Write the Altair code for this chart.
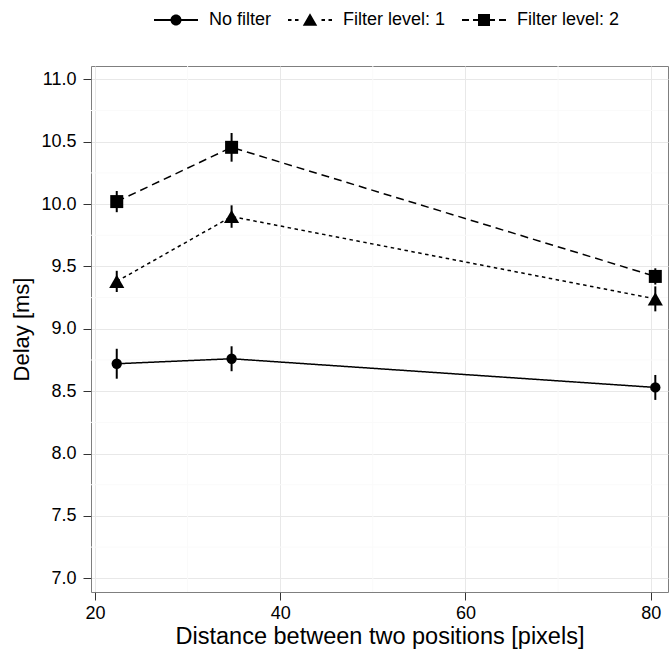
import altair as alt
import pandas as pd

# ---- data ----
series_names = ["No filter", "Filter level: 1", "Filter level: 2"]
distance = [22.35, 34.75, 80.5]
delay_no_filter = [8.72, 8.76, 8.53]
err_no_filter = [0.12, 0.10, 0.10]
delay_filter1 = [9.38, 9.90, 9.24]
err_filter1 = [0.085, 0.09, 0.10]
delay_filter2 = [10.02, 10.455, 9.42]
err_filter2 = [0.085, 0.115, 0.065]

x_ticks = [20, 40, 60, 80]
y_ticks = [7.0, 7.5, 8.0, 8.5, 9.0, 9.5, 10.0, 10.5, 11.0]
x_minor = [30, 50, 70]
y_minor = [7.25, 7.75, 8.25, 8.75, 9.25, 9.75, 10.25, 10.75]

rows = []
for name, vals, errs in zip(series_names,
                            [delay_no_filter, delay_filter1, delay_filter2],
                            [err_no_filter, err_filter1, err_filter2]):
    for d, v, e in zip(distance, vals, errs):
        rows.append({"series": name, "distance": d, "delay": v,
                     "lo": v - e, "hi": v + e})
df = pd.DataFrame(rows)

FONT = "Liberation Sans"
X_TITLE = "Distance between two positions [pixels]"
Y_TITLE = "Delay [ms]"
xscale = alt.Scale(domain=[19.57, 81.87], nice=False, zero=False)
yscale = alt.Scale(domain=[6.89, 11.107], nice=False, zero=False)


def xenc(field):
    return alt.X(field, type="quantitative", scale=xscale, title=X_TITLE,
                 axis=alt.Axis(values=x_ticks, titleFontSize=23.5, titlePadding=2,
                               labelPadding=4))


def yenc(field):
    return alt.Y(field, type="quantitative", scale=yscale, title=Y_TITLE,
                 axis=alt.Axis(values=y_ticks, format=".1f", titleFontSize=22,
                               titlePadding=7, labelPadding=7))


minor_x = alt.Chart(pd.DataFrame({"distance": x_minor})).mark_rule(
    color="#fafafa", strokeWidth=1).encode(x=xenc("distance"))
minor_y = alt.Chart(pd.DataFrame({"delay": y_minor})).mark_rule(
    color="#fafafa", strokeWidth=1).encode(y=yenc("delay"))

base = alt.Chart(df)

errbars = base.mark_rule(color="black", strokeWidth=2).encode(
    x=xenc("distance"), y=yenc("lo"), y2="hi:Q",
)

dashes = [[1, 0], [3.5, 3.5], [8, 5]]
shapes = ["circle", "triangle-up", "square"]
sizes = [107, 230, 169]
line_layers = []
point_layers = []
for name, dash, shp, sz in zip(series_names, dashes, shapes, sizes):
    sub = base.transform_filter(alt.datum.series == name)
    line_layers.append(
        sub.mark_line(color="black", strokeWidth=1.5, strokeDash=dash)
        .encode(x=xenc("distance"), y=yenc("delay"))
    )
    point_layers.append(
        sub.mark_point(shape=shp, size=sz, filled=True, color="black", opacity=1)
        .encode(x=xenc("distance"), y=yenc("delay"))
    )

# legend symbols: line (solid / dotted / dashed) drawn as thin filled bars,
# with the marker on top
legend_paths = [
    "M-4.4,-0.18H4.4V0.18H-4.4Z"
    "M1.1,0A1.1,1.1,0,1,1,-1.1,0A1.1,1.1,0,1,1,1.1,0Z",
    "M-4.4,-0.18H-3.7V0.18H-4.4Z M-3.0,-0.18H-2.3V0.18H-3.0Z"
    "M2.3,-0.18H3.0V0.18H2.3Z M3.7,-0.18H4.4V0.18H3.7Z"
    "M0,-1.35L1.45,1.15L-1.45,1.15Z",
    "M-4.4,-0.18H-3.0V0.18H-4.4Z M-2.2,-0.18H2.2V0.18H-2.2Z M3.0,-0.18H4.4V0.18H3.0Z"
    "M-1.2,-1.2H1.2V1.2H-1.2Z",
]
legend_layer = base.transform_filter(alt.datum.delay < 0).mark_point(
    filled=True, color="black", opacity=1).encode(
    x=xenc("distance"), y=yenc("delay"),
    shape=alt.Shape("series:N",
                    scale=alt.Scale(domain=series_names, range=legend_paths),
                    legend=alt.Legend(title=None, orient="none", direction="horizontal",
                                      legendX=60, legendY=-55,
                                      symbolSize=100, symbolOffset=16,
                                      symbolOpacity=1, symbolFillColor="black",
                                      labelOffset=24, labelFontSize=18,
                                      labelFont=FONT, labelColor="black",
                                      columnPadding=13)),
)

chart = alt.layer(minor_x, minor_y, errbars, *line_layers, *point_layers,
                  legend_layer).properties(
    width=577, height=526,
    autosize=alt.AutoSizeParams(type="none"),
    padding={"left": 91, "top": 66, "right": 2, "bottom": 58},
).configure(font=FONT).configure_view(
    stroke="#7f7f7f", strokeWidth=1
).configure_axis(
    domain=False, grid=True, gridColor="#e8e8e8", gridWidth=1,
    tickColor="#333333", tickSize=8, tickWidth=1,
    labelFontSize=18, labelColor="black", labelFont=FONT,
    titleFont=FONT, titleFontWeight="normal", titleColor="black",
)

chart.save("out.html", embed_options={"renderer": "svg", "actions": False})
